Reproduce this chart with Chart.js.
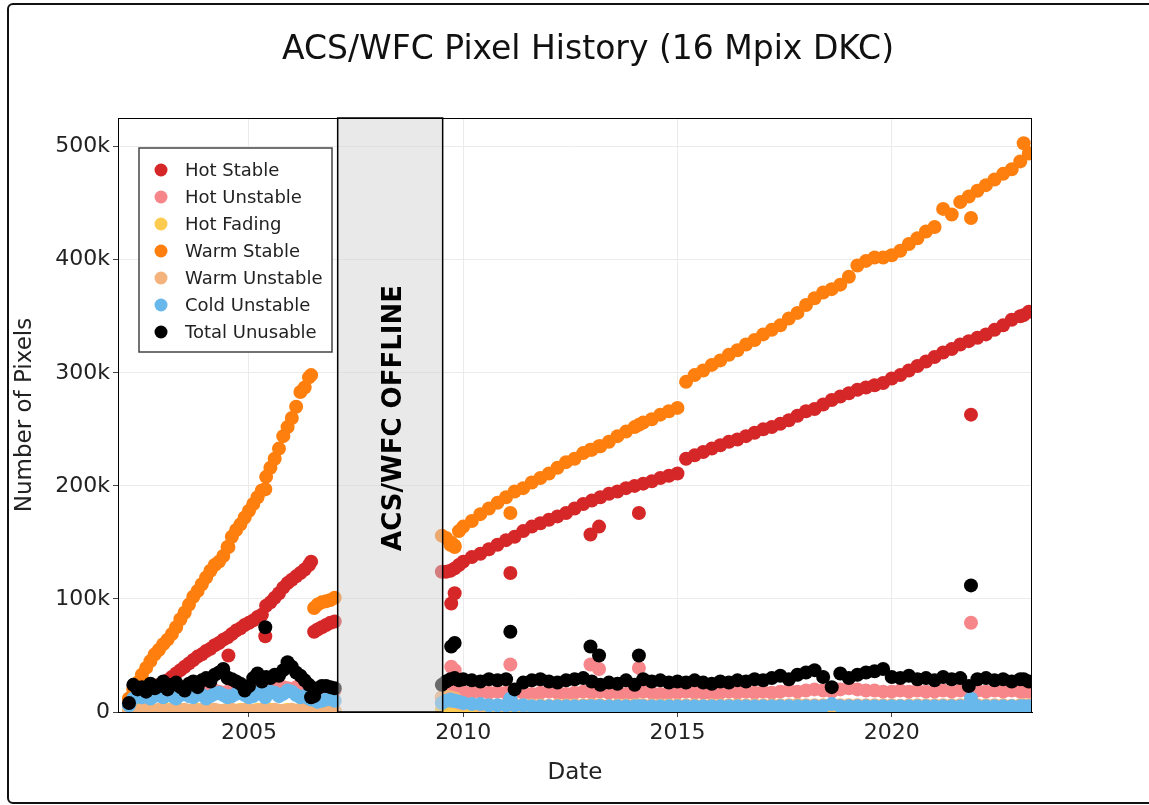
<!DOCTYPE html>
<html lang="en">
<head>
  <meta charset="UTF-8">
  <title>ACS/WFC Pixel History</title>
  <script src="https://cdn.jsdelivr.net/npm/chart.js"></script>
  <style>
    body {
      margin: 0;
      background: #fff;
      overflow: hidden;
    }
    #wrap {
      position: relative;
      width: 1149px;
      height: 805px;
    }
    #frame {
      position: absolute;
      left: 7px;
      top: 3px;
      width: 1160px;
      height: 801px;
      border: 2px solid #111;
      border-radius: 6px;
      box-sizing: border-box;
      pointer-events: none;
    }
  </style>
</head>
<body>
  <div id="wrap">
    <canvas id="chart"></canvas>
    <div id="frame"></div>
  </div>

  <script>
    // observation dates (decimal years): before the 2007 failure, after SM4, odd epochs
    const dates = [
      2002.2, 2002.3, 2002.4, 2002.5, 2002.6, 2002.7, 2002.8, 2002.9, 2003.0, 2003.1,
      2003.2, 2003.3, 2003.4, 2003.5, 2003.6, 2003.7, 2003.8, 2003.9, 2004.0, 2004.1,
      2004.2, 2004.3, 2004.4, 2004.5, 2004.6, 2004.7, 2004.8, 2004.9, 2005.0, 2005.1,
      2005.2, 2005.3, 2005.4, 2005.5, 2005.6, 2005.7, 2005.8, 2005.9, 2006.0, 2006.1,
      2006.2, 2006.3, 2006.4, 2006.45, 2006.52, 2006.6, 2006.7, 2006.8, 2006.9, 2007.0,

      2009.5, 2009.6, 2009.7, 2009.8, 2009.9, 2010.0, 2010.2, 2010.4, 2010.6, 2010.8,
      2011.0, 2011.2, 2011.4, 2011.6, 2011.8, 2012.0, 2012.2, 2012.4, 2012.6, 2012.8,
      2013.0, 2013.2, 2013.4, 2013.6, 2013.8, 2014.0, 2014.2, 2014.4, 2014.6, 2014.8,
      2015.0, 2015.2, 2015.4, 2015.6, 2015.8, 2016.0, 2016.2, 2016.4, 2016.6, 2016.8,
      2017.0, 2017.2, 2017.4, 2017.6, 2017.8, 2018.0, 2018.2, 2018.4, 2018.6, 2018.8,
      2019.0, 2019.2, 2019.4, 2019.6, 2019.8, 2020.0, 2020.2, 2020.4, 2020.6, 2020.8,
      2021.0, 2021.2, 2021.4, 2021.6, 2021.8, 2022.0, 2022.2, 2022.4, 2022.6, 2022.8,
      2023.0, 2023.2,

      2004.52, 2005.38, 2009.72, 2009.8, 2011.1, 2012.97, 2013.17, 2014.1, 2021.85, 2023.08
    ];

    // pixel counts in thousands, same order as dates
    const hotStable = [
      6, 9, 11, 14, 16, 19, 21, 24, 26, 28,
      31, 34, 37, 40, 43, 46, 49, 51, 54, 56,
      59, 61, 64, 66, 69, 72, 74, 77, 79, 81,
      84, 86, 94, 97, 101, 105, 110, 114, 117, 120,
      123, 126, 130, 133, 71, 73, 75, 77, 79, 80,

      124, 124, 125, 127, 130, 133, 137, 140, 144, 148,
      152, 155, 160, 164, 167, 170, 173, 176, 180, 184,
      187, 190, 193, 195, 198, 200, 202, 204, 207, 209,
      211, 224, 227, 230, 233, 236, 239, 241, 244, 247,
      250, 252, 255, 258, 262, 266, 268, 272, 276, 279,
      282, 285, 287, 289, 291, 295, 298, 302, 306, 310,
      314, 318, 321, 325, 328, 331, 334, 338, 342, 347,
      350, 354,

      50, 67, 96, 105, 123, 157, 164, 176, 263, 351
    ];

    const hotUnstable = [
      10, 13, 14, 15, 14, 16, 15, 17, 16, 15,
      17, 16, 18, 17, 16, 18, 17, 19, 18, 17,
      19, 18, 17, 18, 19, 18, 20, 19, 18, 20,
      19, 21, 20, 19, 21, 20, 22, 21, 20, 22,
      21, 20, 19, 20, 18, 19, 20, 19, 18, 19,

      12, 16, 20, 22, 19, 18, 17, 18, 17, 18,
      17, 18, 17, 16, 17, 18, 17, 16, 17, 18,
      17, 18, 17, 17, 16, 17, 18, 17, 16, 17,
      17, 18, 17, 17, 16, 17, 18, 17, 18, 17,
      18, 17, 18, 19, 18, 19, 20, 19, 18, 20,
      21, 20, 19, 19, 18, 18, 19, 18, 19, 18,
      18, 19, 18, 19, 18, 19, 18, 19, 18, 19,
      18, 18,

      17, 18, 40, 37, 42, 42, 38, 39, 79, 18
    ];

    const hotFading = [
      1, 1, 2, 1, 1, 2, 1, 1, 1, 2,
      1, 1, 2, 1, 1, 1, 2, 1, 1, 2,
      1, 1, 1, 2, 1, 1, 2, 1, 1, 1,
      2, 1, 1, 2, 1, 1, 1, 2, 1, 1,
      2, 1, 1, 1, 2, 1, 1, 2, 1, 1,

      2, 2, 3, 2, 2, 2, 2, 2, 2, 2,
      2, 2, 2, 2, 2, 2, 2, 2, 2, 2,
      2, 2, 2, 2, 2, 2, 2, 2, 2, 2,
      2, 2, 2, 2, 2, 2, 2, 2, 2, 2,
      2, 2, 2, 2, 2, 2, 2, 2, 2, 2,
      2, 2, 2, 2, 2, 2, 2, 2, 2, 2,
      2, 2, 2, 2, 2, 2, 2, 2, 2, 2,
      2, 2,

      1, 1, 2, 2, 2, 2, 2, 2, 2, 2
    ];

    const warmStable = [
      12, 20, 26, 33, 39, 45, 51, 55, 60, 64,
      69, 75, 82, 88, 95, 102, 107, 113, 119, 125,
      130, 133, 138, 146, 155, 161, 166, 172, 178, 184,
      190, 196, 208, 216, 224, 233, 244, 252, 260, 270,
      283, 287, 296, 298, 92, 95, 97, 98, 99, 101,

      156, 154, 148, 147, 160, 164, 169, 175, 180, 185,
      190, 195, 198, 203, 207, 211, 216, 221, 224, 229,
      232, 235, 239, 244, 248, 252, 256, 259, 263, 266,
      269, 292, 298, 302, 307, 311, 316, 320, 325, 329,
      334, 338, 342, 348, 353, 360, 366, 371, 374, 378,
      385, 395, 399, 402, 402, 404, 408, 414, 419, 425,
      429, 445, 440, 451, 456, 461, 466, 471, 476, 480,
      487, 494,

      146, 197, 150, 146, 176, 232, 235, 254, 437, 503
    ];

    const warmUnstable = [
      1, 2, 1, 1, 2, 1, 1, 2, 1, 1,
      2, 1, 1, 2, 1, 1, 1, 2, 1, 1,
      2, 1, 1, 1, 2, 1, 1, 2, 1, 1,
      1, 2, 1, 1, 2, 1, 1, 1, 2, 1,
      1, 2, 1, 1, 2, 1, 1, 2, 1, 1,

      13, 14, 13, 12, 8, 7, 7, 6, 6, 6,
      6, 6.5, 6, 6, 6, 5.5, 6, 6, 6, 6,
      6, 6, 5.5, 6, 6, 6, 6, 6, 6, 6,
      6, 6, 6, 5.5, 6, 6, 6, 6, 6, 6,
      6, 6, 6, 6, 6.5, 6, 6, 6, 6.5, 6,
      6, 6, 6, 6, 6, 6, 5.5, 6, 6, 6,
      6, 6, 6, 6, 7, 6, 6, 6, 6, 5.5,
      6, 6,

      1, 1, 12, 12, 8, 6, 6, 6, 8, 6
    ];

    const coldUnstable = [
      6, 12, 14, 13, 15, 12, 14, 16, 13, 15,
      14, 12, 15, 17, 14, 13, 16, 15, 12, 14,
      16, 17, 15, 13, 14, 16, 18, 15, 13, 14,
      17, 16, 15, 18, 17, 14, 16, 19, 18, 15,
      13, 14, 12, 11, 12, 9, 10, 11, 12, 10,

      8, 10, 11, 10, 9, 8, 7, 7, 6, 6,
      6, 6, 6, 5, 5, 5, 5, 5, 5, 5,
      5, 5, 5, 5, 5, 5, 5, 5, 5, 5,
      5, 5, 5, 5, 5, 5, 5, 5, 5, 5,
      5, 5, 5, 5, 5, 5, 5, 5, 7, 5,
      5, 5, 5, 5, 5, 5, 5, 5, 5, 5,
      5, 5, 5, 5, 5, 5, 5, 5, 5, 5,
      5, 5,

      14, 13, 10, 10, 12, 5, 5, 5, 12, 5
    ];

    const totalUnusable = [
      8, 24, 20, 22, 18, 25, 21, 23, 27, 20,
      24, 26, 22, 19, 25, 27, 22, 28, 30, 27,
      33, 35, 38, 30, 29, 27, 25, 19, 23, 30,
      34, 27, 31, 30, 33, 32, 37, 44, 40, 35,
      32, 28, 24, 13, 14, 21, 23, 23, 22, 21,

      24, 27, 29, 30, 28, 29, 28, 27, 29, 28,
      29, 20, 26, 28, 29, 27, 26, 28, 29, 30,
      27, 24, 26, 25, 28, 24, 29, 27, 28, 26,
      27, 26, 28, 26, 25, 27, 26, 28, 27, 29,
      28, 30, 32, 29, 33, 35, 37, 31, 22, 34,
      30, 33, 35, 36, 38, 31, 30, 32, 29, 30,
      28, 31, 29, 30, 23, 29, 30, 28, 29, 27,
      29, 27,

      30, 75, 58, 61, 71, 58, 50, 50, 112, 29
    ];

    const seriesNames = ['Hot Stable', 'Hot Unstable', 'Hot Fading', 'Warm Stable', 'Warm Unstable', 'Cold Unstable', 'Total Unusable'];
    const seriesColors = ['#d62728', '#f7868a', '#fdcb4f', '#ff7f0e', '#f4b37c', '#69b8ec', '#000000'];
    const seriesValues = [hotStable, hotUnstable, hotFading, warmStable, warmUnstable, coldUnstable, totalUnusable];

    const xTicks = [2005, 2010, 2015, 2020];
    const yTicks = [0, 100, 200, 300, 400, 500];
    const offlineSpan = [2007.07, 2009.52];

    const FONT = "'DejaVu Sans', sans-serif";
    const TITLE = 'ACS/WFC Pixel History (16 Mpix DKC)';

    // title sits over the middle of the page, not the plot
    const titlePlugin = {
      id: 'pageTitle',
      afterDraw(chart) {
        const { ctx } = chart;
        ctx.save();
        ctx.font = "33px " + FONT;
        ctx.fillStyle = '#111';
        ctx.textAlign = 'center';
        ctx.textBaseline = 'middle';
        ctx.fillText(TITLE, 588, 50);
        ctx.restore();
      }
    };

    // gray box over the years the camera was down
    const offlinePlugin = {
      id: 'offline',
      afterDatasetsDraw(chart) {
        const { ctx, chartArea, scales } = chart;
        const x0 = scales.x.getPixelForValue(offlineSpan[0]);
        const x1 = scales.x.getPixelForValue(offlineSpan[1]);
        ctx.save();
        ctx.fillStyle = 'rgba(211, 211, 211, 0.5)';
        ctx.fillRect(x0, chartArea.top, x1 - x0, chartArea.bottom - chartArea.top);
        ctx.strokeStyle = '#000';
        ctx.lineWidth = 1.5;
        ctx.strokeRect(x0, chartArea.top, x1 - x0, chartArea.bottom - chartArea.top);
        ctx.translate((x0 + x1) / 2 + 4, (chartArea.top + chartArea.bottom) / 2 + 3);
        ctx.rotate(-Math.PI / 2);
        ctx.fillStyle = '#000';
        ctx.font = "bold 26px " + FONT;
        ctx.textAlign = 'center';
        ctx.textBaseline = 'middle';
        ctx.fillText('ACS/WFC OFFLINE', 0, 0);
        ctx.restore();
      }
    };

    // black frame round the plot + boxed legend in the upper left
    const framePlugin = {
      id: 'frameLegend',
      afterDraw(chart) {
        const { ctx, chartArea } = chart;
        ctx.save();
        ctx.strokeStyle = '#000';
        ctx.lineWidth = 1;
        ctx.strokeRect(chartArea.left + 0.5, chartArea.top + 0.5,
          chartArea.right - chartArea.left - 1, chartArea.bottom - chartArea.top);

        const lx = chartArea.left + 21, ly = chartArea.top + 30;
        ctx.fillStyle = '#fff';
        ctx.fillRect(lx, ly, 193, 204);
        ctx.strokeStyle = '#444';
        ctx.lineWidth = 1.5;
        ctx.strokeRect(lx, ly, 193, 204);
        ctx.font = "18px " + FONT;
        ctx.textBaseline = 'middle';
        seriesNames.forEach((name, i) => {
          const y = ly + 22 + i * 27;
          ctx.beginPath();
          ctx.arc(lx + 22, y, 6.5, 0, Math.PI * 2);
          ctx.fillStyle = seriesColors[i];
          ctx.fill();
          ctx.fillStyle = '#222';
          ctx.fillText(name, lx + 46, y + 1);
        });
        ctx.restore();
      }
    };

    new Chart(document.getElementById('chart'), {
      type: 'scatter',
      data: {
        // Chart.js paints low "order" last, so Total Unusable ends up on top
        datasets: seriesNames.map((name, i) => ({
          label: name,
          data: dates.map((d, j) => ({ x: d, y: seriesValues[i][j] })),
          backgroundColor: seriesColors[i],
          borderWidth: 0,
          pointRadius: 7,
          order: seriesNames.length - i,
          clip: 0
        }))
      },
      options: {
        responsive: true,
        maintainAspectRatio: false,
        animation: false,
        layout: { padding: { top: 118, right: 117, left: 0, bottom: 0 } },
        plugins: {
          legend: { display: false },
          tooltip: { enabled: false },
          title: { display: false }
        },
        scales: {
          x: {
            type: 'linear',
            min: 2001.943,
            max: 2023.274,
            afterBuildTicks: s => { s.ticks = xTicks.map(v => ({ value: v })); },
            afterFit: s => { s.height = 93; },
            ticks: {
              callback: v => String(v),
              color: '#222',
              font: { family: FONT, size: 22 },
              padding: 3,
              maxRotation: 0
            },
            grid: { color: '#ebebeb', tickColor: '#444', tickLength: 5 },
            border: { color: '#000', width: 1 },
            title: {
              display: true,
              text: 'Date',
              color: '#222',
              font: { family: FONT, size: 23 },
              padding: { top: 0, bottom: 18 }
            }
          },
          y: {
            min: 0,
            max: 525.4,
            afterBuildTicks: s => { s.ticks = yTicks.map(v => ({ value: v })); },
            afterFit: s => { s.width = 118; },
            ticks: {
              callback: v => v === 0 ? '0' : v + 'k',
              color: '#222',
              font: { family: FONT, size: 22 },
              padding: 3
            },
            grid: { color: '#ebebeb', tickColor: '#444', tickLength: 5 },
            border: { color: '#000', width: 1 },
            title: {
              display: true,
              text: 'Number of Pixels',
              color: '#222',
              font: { family: FONT, size: 23 },
              padding: { top: 11 }
            }
          }
        }
      },
      plugins: [offlinePlugin, framePlugin, titlePlugin]
    });
  </script>
</body>
</html>
